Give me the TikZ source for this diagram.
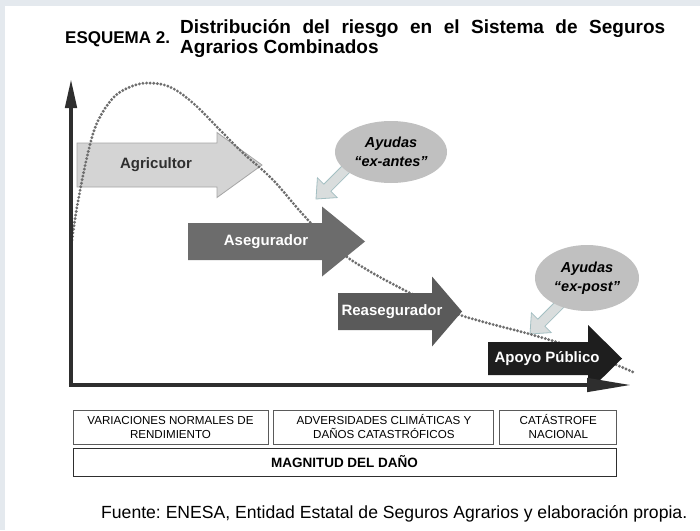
\documentclass[tikz,border=0pt]{standalone}
\usepackage{fontspec}
\setmainfont{Liberation Sans}
\frenchspacing
\usetikzlibrary{arrows.meta, calc, positioning, shapes.geometric}
\definecolor{framebg}{HTML}{E4E9EE}
\definecolor{agrigray}{HTML}{D4D4D4}
\definecolor{agriline}{HTML}{A6A6A6}
\definecolor{aseggray}{HTML}{6C6C6C}
\definecolor{reasgray}{HTML}{5A5A5A}
\definecolor{apoyoblack}{HTML}{1E1E1E}
\definecolor{ayudagray}{HTML}{C0C0C0}
\definecolor{smallfill}{HTML}{D9DDDD}
\definecolor{smallline}{HTML}{A3BFC2}
\definecolor{curvegray}{HTML}{6E6E6E}
\definecolor{axisdark}{HTML}{2E2E2E}
\definecolor{cajaline}{HTML}{5A5A5A}
\tikzset{
	lbl/.style={font=\bfseries\fontsize{15}{18}\selectfont, text=white, inner sep=0pt},
	ayuda/.style={ellipse, fill=ayudagray, minimum width=112pt, minimum height=62pt,
		align=center, inner sep=0pt, font=\bfseries\itshape\fontsize{14.5}{19}\selectfont},
	caja/.style={draw=cajaline, line width=0.9pt, minimum height=34pt, align=center,
		inner sep=0pt, font=\fontsize{11.6}{14}\selectfont},
	ayudaarr/.style={fill=smallfill, draw=smallline, line width=0.8pt},
	axis/.style={draw=axisdark, line width=4.5pt}
}
% block arrow: [style]{tail}{tip}{half shaft}{half head}{head length}
\newcommand{\bloque}[6][]{%
	\coordinate (b-s) at (#2);
	\coordinate (b-t) at (#3);
	\coordinate (b-h) at ($(b-t)!#6!(b-s)$);
	\path[#1] ($(b-s)!#4!90:(b-t)$) -- ($(b-h)!#4!90:(b-t)$) -- ($(b-h)!#5!90:(b-t)$) -- (b-t)
		-- ($(b-h)!#5!-90:(b-t)$) -- ($(b-h)!#4!-90:(b-t)$) -- ($(b-s)!#4!-90:(b-t)$) -- cycle;
}

\begin{document}
\begin{tikzpicture}[x=1pt, y=-1pt]
	\useasboundingbox (0,0) rectangle (700,530);
	\fill[framebg] (0,0) rectangle (700,530);
	\fill[white] (5,6) rectangle (700,530);

	% title
	\node[anchor=base west, inner sep=0pt, font=\bfseries\fontsize{17}{20}\selectfont] (esquema) at (65,43) {ESQUEMA 2.};
	\node[anchor=base west, inner sep=0pt, font=\bfseries\fontsize{19}{22}\selectfont] (titulo) at (180,33)
		{\makebox[485pt][s]{Distribución del riesgo en el Sistema de Seguros}};
	\node[anchor=base west, inner sep=0pt, font=\bfseries\fontsize{19}{22}\selectfont] (titulob) at (180,53) {Agrarios Combinados};

	% help arrows (under the ellipses)
	\coordinate (antes-root) at (362,153);
	\coordinate (antes-tip) at (316,199);
	\coordinate (post-root) at (575,289);
	\coordinate (post-tip) at (530,334);
	\bloque[ayudaarr]{antes-root}{antes-tip}{5pt}{14pt}{16pt}
	\bloque[ayudaarr]{post-root}{post-tip}{5pt}{14pt}{16pt}

	% risk layers
	\coordinate (agri-tail) at (77,165);
	\coordinate (agri-tip) at (262,165);
	\bloque[fill=agrigray, draw=agriline, line width=0.8pt]{agri-tail}{agri-tip}{22pt}{32.5pt}{45pt}

	% dotted curve
	\draw[curvegray, line width=3.2pt, line cap=round, dash pattern=on 0pt off 3.6pt]
		plot[smooth, tension=0.6] coordinates {(72,240) (77,207) (87,157) (97,123) (113,98) (130,87)
		(148,83) (170,87) (193,103) (220,130) (243,153) (273,180) (308,220) (347,257)
		(410,293) (460,315) (533,335) (580,350) (633,372)};

	\coordinate (aseg-tail) at (188,241.5);
	\coordinate (aseg-tip) at (365,241.5);
	\bloque[fill=aseggray]{aseg-tail}{aseg-tip}{18.5pt}{35pt}{43pt}
	\coordinate (reas-tail) at (338,311.5);
	\coordinate (reas-tip) at (462,311.5);
	\bloque[fill=reasgray]{reas-tail}{reas-tip}{18.5pt}{35pt}{30pt}
	\coordinate (apoyo-tail) at (488,358.5);
	\coordinate (apoyo-tip) at (622,358.5);
	\bloque[fill=apoyoblack]{apoyo-tail}{apoyo-tip}{16.5pt}{33.5pt}{34pt}

	% axes
	\coordinate (origin) at (71,385);
	\coordinate (ytop) at (71,78);
	\coordinate (xend) at (632,385);
	\draw[axis, -{Triangle[length=30pt, width=11pt]}] (origin) -- (ytop);
	\draw[axis, -{Triangle[length=45pt, width=13pt]}] ([xshift=-2.25pt]origin) -- (xend);

	% labels
	\node[lbl, text=axisdark] (agricultor) at (156,165) {Agricultor};
	\node[lbl] (asegurador) at (266,241.5) {Asegurador};
	\node[lbl] (reasegurador) at (392,311.5) {Reasegurador};
	\node[lbl] (apoyo) at (547,358.5) {Apoyo Público};

	\node[ayuda] (antes) at (391,152) {Ayudas\\“ex-antes”};
	\node[ayuda, minimum width=104pt, minimum height=66pt] (post) at (587,278) {Ayudas\\“ex-post”};

	% damage scale
	\node[caja, minimum width=195pt] (normales) at (170.5,427) {VARIACIONES NORMALES DE\\RENDIMIENTO};
	\node[caja, minimum width=220pt, right=5pt of normales] (climaticas) {ADVERSIDADES CLIMÁTICAS Y\\DAÑOS CATASTRÓFICOS};
	\node[caja, minimum width=117pt, right=5pt of climaticas] (catastrofe) {CATÁSTROFE\\NACIONAL};
	\node[caja, draw=axisdark, minimum width=543pt, minimum height=28pt,
		font=\bfseries\fontsize{13.5}{16}\selectfont] (magnitud) at (344.5,462) {MAGNITUD DEL DAÑO};

	\node[anchor=base west, inner sep=0pt, font=\fontsize{17.6}{20}\selectfont] (fuente) at (101,518)
		{Fuente: ENESA, Entidad Estatal de Seguros Agrarios y elaboración propia.};
\end{tikzpicture}
\end{document}
